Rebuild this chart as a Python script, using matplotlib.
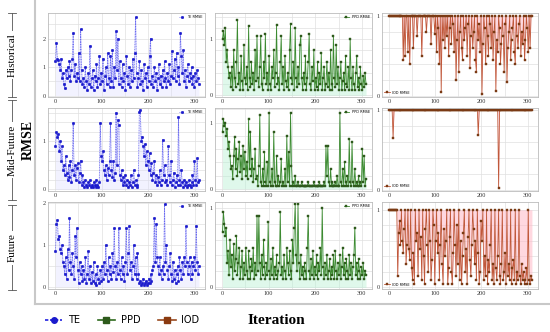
import numpy as np
import matplotlib
matplotlib.use("Agg")
import matplotlib.pyplot as plt
from matplotlib.lines import Line2D
from matplotlib.ticker import MultipleLocator

# iteration index (every 2nd iteration)
iters = np.arange(1, 311, 2)

rows = ["Historical", "Mid-Future", "Future"]
cols = ["TE", "PPD", "IOD"]

te_hist = [1.2, 1.85, 1.3, 1.25, 1.1, 0.9, 1.3, 0.6, 0.8, 0.4,
           0.25, 0.9, 0.6, 1.0, 0.7, 1.2, 0.5, 0.9, 1.3, 2.2,
           0.7, 1.1, 0.5, 0.8, 0.6, 1.5, 0.5, 2.35, 0.9, 0.4,
           0.6, 0.3, 1.0, 0.5, 0.2, 0.8, 0.4, 1.75, 0.3, 0.6,
           0.9, 0.2, 0.7, 0.5, 1.1, 0.3, 0.6, 1.4, 0.4, 0.8,
           0.5, 1.3, 0.2, 0.7, 1.0, 0.4, 1.5, 0.6, 0.3, 1.4,
           0.5, 1.6, 0.3, 1.0, 0.6, 2.25, 0.9, 2.0, 0.4, 1.2,
           0.6, 0.3, 1.1, 0.5, 0.8, 0.2, 1.4, 0.7, 0.4, 1.0,
           0.3, 0.9, 0.5, 1.3, 0.6, 1.5, 2.75, 0.8, 0.3, 0.6,
           1.2, 0.4, 0.9, 0.5, 0.2, 1.1, 0.6, 0.8, 0.3, 1.0,
           0.5, 1.4, 2.0, 0.4, 0.7, 0.3, 1.0, 0.5, 0.8, 0.2,
           0.6, 1.1, 0.4, 0.7, 0.3, 0.9, 0.5, 1.2, 0.6, 0.3,
           0.8, 0.5, 1.1, 0.4, 0.7, 1.55, 0.6, 0.9, 1.3, 0.5,
           1.5, 0.7, 1.0, 0.4, 2.2, 1.4, 0.8, 1.6, 0.5, 0.9,
           0.3, 0.7, 1.1, 0.5, 0.8, 0.6, 1.0, 0.4, 0.7, 0.3,
           0.8, 0.5, 0.9, 0.6, 0.4]

ppd_hist = [1.0, 1.15, 0.9, 1.2, 0.6, 0.8, 0.5, 0.3, 0.4, 0.15,
            0.5, 0.1, 0.8, 0.3, 0.15, 0.6, 1.35, 0.2, 0.4, 0.1,
            0.7, 0.25, 0.1, 0.9, 0.3, 0.2, 0.5, 0.1, 1.23, 0.3,
            0.15, 0.6, 0.2, 0.4, 0.1, 0.8, 0.25, 1.05, 0.3, 0.15,
            0.5, 1.05, 0.2, 0.1, 0.6, 0.3, 1.1, 0.2, 0.4, 0.1,
            0.7, 0.2, 0.1, 0.5, 0.3, 0.8, 0.15, 0.4, 1.25, 0.2,
            0.3, 0.1, 0.6, 1.05, 0.2, 0.5, 0.1, 0.7, 0.25, 0.15,
            0.4, 0.1, 0.8, 1.28, 0.3, 0.2, 0.6, 0.1, 1.2, 0.3,
            0.15, 0.5, 0.2, 0.9, 1.05, 0.3, 0.1, 0.4, 0.2, 0.7,
            0.1, 0.3, 0.6, 1.1, 0.2, 0.1, 0.5, 0.25, 0.8, 0.1,
            0.3, 0.15, 0.6, 0.1, 0.4, 0.2, 0.75, 0.1, 0.3, 0.5,
            0.1, 0.2, 0.6, 0.15, 0.4, 0.1, 0.8, 0.2, 0.1, 1.05,
            0.3, 0.15, 0.9, 0.2, 0.5, 0.1, 0.3, 0.6, 0.1, 0.25,
            0.4, 0.1, 0.7, 0.2, 0.15, 0.5, 0.1, 1.0, 0.3, 0.1,
            0.5, 0.2, 0.1, 0.4, 0.7, 0.15, 0.3, 0.1, 0.5, 0.2,
            0.1, 0.35, 0.15, 0.4, 0.2]

iod_hist = [1, 1, 1, 1, 1, 1, 1, 1, 1, 1,
            1, 1, 1, 1, 1, 0.45, 1, 0.5, 1, 1,
            0.55, 1, 0.4, 1, 1, 1, 0.6, 1, 1, 1,
            0.75, 1, 1, 1, 1, 0.5, 1, 1, 1, 1,
            0.8, 1, 1, 1, 1, 0.65, 1, 1, 1, 0.78,
            1, 0.55, 1, 0.85, 0.4, 1, 0.05, 1, 0.7, 1,
            0.6, 1, 0.75, 1, 0.5, 0.85, 1, 0.65, 1, 0.9,
            0.55, 1, 0.2, 0.7, 1, 0.3, 0.8, 1, 0.6, 0.45,
            1, 0.7, 0.85, 1, 0.5, 0.9, 1, 0.35, 0.75, 1,
            0.6, 0.8, 1, 0.45, 0.3, 1, 0.7, 0.9, 0.55, 1,
            0.03, 0.65, 1, 0.85, 0.4, 1, 0.75, 0.5, 1, 0.9,
            0.6, 1, 0.45, 0.8, 1, 0.06, 0.7, 0.55, 1, 0.85,
            0.4, 0.65, 1, 0.75, 0.3, 0.9, 1, 0.18, 0.6, 0.8,
            1, 0.45, 0.7, 0.85, 1, 0.55, 0.4, 1, 0.75, 0.6,
            0.9, 1, 0.5, 0.8, 0.65, 1, 0.45, 0.7, 1, 0.85,
            0.55, 1, 0.6, 1, 1]

te_mid = [0.9, 1.2, 1.1, 1.15, 0.8, 1.0, 0.6, 0.9, 0.4, 0.5,
          0.3, 0.7, 0.35, 0.2, 0.5, 0.25, 0.6, 0.15, 0.4, 1.39,
          0.3, 0.5, 0.2, 0.45, 0.55, 0.15, 0.35, 0.6, 0.1, 0.3,
          0.15, 0.05, 0.2, 0.1, 0.05, 0.15, 0.1, 0.2, 0.05, 0.1,
          0.05, 0.15, 0.1, 0.05, 0.2, 0.1, 0.05, 0.15, 1.39, 0.7,
          0.6, 0.8, 0.4, 0.3, 0.5, 0.2, 0.45, 0.3, 0.6, 1.39,
          0.4, 0.25, 0.6, 0.2, 0.35, 1.6, 0.5, 1.45, 1.35, 0.3,
          0.2, 0.4, 0.1, 0.25, 0.15, 0.3, 0.1, 0.2, 0.05, 0.15,
          0.1, 0.3, 0.05, 0.15, 0.4, 0.1, 0.2, 0.05, 0.1, 0.3,
          1.62, 1.65, 1.0, 1.1, 0.9, 0.7, 0.95, 0.5, 0.8, 0.6,
          0.4, 0.75, 0.3, 0.55, 0.2, 0.35, 0.6, 0.15, 0.3, 0.1,
          0.25, 0.15, 0.4, 0.1, 0.2, 1.04, 0.3, 0.5, 0.15, 0.2,
          0.1, 0.9, 0.3, 0.15, 0.6, 0.1, 0.2, 0.35, 0.05, 0.15,
          0.3, 0.1, 1.5, 0.2, 0.1, 0.4, 0.15, 0.05, 0.2, 0.1,
          0.15, 0.05, 0.1, 0.2, 0.1, 0.05, 0.15, 0.3, 0.1, 0.6,
          0.2, 0.1, 0.65, 0.15, 0.2]

ppd_mid = [0.85, 1.05, 0.95, 1.0, 0.8, 0.9, 0.6, 0.7, 0.5, 0.3,
           0.35, 0.15, 0.5, 0.78, 0.3, 0.6, 0.2, 0.45, 0.7, 0.25,
           0.5, 0.15, 0.65, 0.3, 0.55, 0.2, 0.4, 0.15, 1.05, 0.3,
           0.85, 0.2, 0.45, 0.1, 0.3, 0.6, 0.15, 0.2, 0.05, 0.35,
           1.12, 0.1, 0.05, 0.3, 0.05, 0.55, 0.1, 0.05, 0.4, 0.05,
           1.15, 0.1, 0.05, 0.3, 0.05, 0.85, 0.1, 0.05, 0.5, 0.05,
           0.2, 0.05, 0.1, 0.45, 0.05, 0.1, 0.05, 0.3, 0.05, 0.8,
           0.1, 0.55, 0.05, 1.15, 0.35, 0.05, 0.1, 0.05, 0.2, 0.05,
           0.05, 0.1, 0.05, 0.05, 0.05, 0.1, 0.05, 0.05, 0.05, 0.05,
           0.05, 0.05, 0.1, 0.05, 0.05, 0.05, 0.05, 0.05, 0.1, 0.05,
           0.05, 0.05, 0.05, 0.05, 0.1, 0.05, 0.05, 0.05, 0.05, 0.1,
           0.05, 0.64, 0.2, 0.65, 0.1, 0.05, 0.3, 0.05, 0.1, 0.05,
           0.05, 0.1, 0.05, 0.2, 0.05, 0.05, 1.15, 0.1, 0.05, 0.3,
           0.05, 0.4, 0.1, 0.05, 0.2, 0.05, 0.75, 0.1, 0.05, 0.7,
           0.1, 0.05, 0.3, 0.05, 0.1, 0.05, 0.2, 0.05, 0.1, 0.05,
           0.6, 0.1, 0.5, 0.05, 0.15]

iod_mid = [1, 1, 1, 1, 0.65, 1, 1, 1, 1, 1,
           1, 1, 1, 1, 1, 1, 1, 1, 1, 1,
           1, 1, 1, 1, 1, 1, 1, 1, 1, 1,
           1, 1, 1, 1, 1, 1, 1, 1, 1, 1,
           1, 1, 1, 1, 1, 1, 1, 1, 1, 1,
           1, 1, 1, 1, 1, 1, 1, 1, 1, 1,
           1, 1, 1, 1, 1, 1, 1, 1, 1, 1,
           1, 1, 1, 1, 1, 1, 1, 1, 1, 1,
           1, 1, 1, 1, 1, 1, 1, 1, 1, 1,
           1, 1, 1, 1, 1, 1, 0.69, 1, 1, 1,
           1, 1, 1, 1, 1, 1, 1, 1, 1, 1,
           1, 1, 1, 1, 1, 1, 1, 1, 0.03, 1,
           1, 1, 1, 1, 1, 1, 1, 1, 1, 1,
           1, 1, 1, 1, 1, 1, 1, 1, 1, 1,
           1, 1, 1, 1, 1, 1, 1, 1, 1, 1,
           1, 1, 1, 1, 1]

te_fut = [0.85, 1.5, 1.6, 1.15, 1.2, 0.9, 0.8, 1.0, 0.6, 0.5,
          0.3, 0.7, 0.2, 0.9, 0.4, 1.63, 0.6, 0.3, 0.8, 0.5,
          0.2, 1.2, 0.7, 1.4, 0.4, 0.1, 0.6, 0.3, 0.5, 0.15,
          0.4, 0.2, 0.7, 0.1, 0.3, 0.86, 0.2, 0.5, 0.1, 0.35,
          0.15, 0.6, 0.1, 0.3, 0.05, 0.5, 0.2, 0.1, 0.4, 0.15,
          0.5, 0.2, 0.6, 0.3, 1.0, 0.4, 0.15, 0.7, 0.3, 0.5,
          0.2, 0.8, 0.35, 1.4, 0.5, 0.2, 0.6, 0.3, 1.4, 0.4,
          0.2, 0.7, 0.3, 0.5, 0.15, 0.6, 1.4, 0.3, 0.8, 1.45,
          0.4, 0.6, 0.2, 0.5, 1.0, 0.3, 0.7, 0.2, 0.8, 0.3,
          0.1, 0.15, 0.05, 0.1, 0.2, 0.05, 0.1, 0.15, 0.05, 0.1,
          0.2, 0.1, 0.3, 0.15, 0.4, 0.5, 1.65, 0.6, 1.5, 0.7,
          0.5, 0.3, 0.7, 0.4, 0.2, 0.5, 0.3, 1.97, 0.6, 1.0,
          0.4, 0.2, 0.5, 0.8, 0.3, 0.15, 0.6, 0.2, 0.4, 0.1,
          0.3, 0.5, 0.15, 0.7, 0.4, 0.2, 0.6, 0.3, 0.7, 0.5,
          1.45, 0.6, 0.3, 0.5, 0.7, 0.2, 0.6, 0.3, 0.5, 0.7,
          0.4, 1.45, 0.6, 0.3, 0.5]

ppd_fut = [0.7, 0.94, 0.8, 0.65, 0.75, 0.3, 0.45, 0.15, 0.6, 0.25,
           0.4, 0.1, 0.55, 0.2, 0.35, 0.65, 0.15, 0.3, 0.5, 0.1,
           0.25, 0.45, 0.1, 0.3, 0.15, 0.5, 0.2, 0.1, 0.45, 0.25,
           0.1, 0.35, 0.2, 0.5, 0.1, 0.3, 0.15, 0.9, 0.2, 0.9,
           0.3, 0.1, 0.4, 0.15, 0.6, 0.25, 0.1, 0.3, 0.15, 0.82,
           0.2, 0.1, 0.35, 0.15, 0.5, 0.1, 0.25, 0.15, 0.4, 0.1,
           0.2, 0.3, 0.95, 0.15, 0.25, 0.1, 0.4, 0.2, 0.1, 0.5,
           0.3, 0.15, 0.45, 0.2, 0.1, 0.6, 0.3, 0.75, 1.04, 0.4,
           0.2, 1.04, 0.3, 0.1, 0.4, 0.15, 0.25, 0.1, 0.3, 0.2,
           0.1, 0.5, 0.9, 0.2, 0.1, 0.35, 0.15, 0.45, 0.1, 0.25,
           0.15, 0.4, 0.1, 0.3, 0.2, 0.5, 0.15, 1.0, 0.25, 0.1,
           0.3, 0.15, 0.4, 0.1, 0.2, 0.35, 0.1, 0.25, 0.15, 0.4,
           0.1, 0.45, 0.2, 0.1, 0.3, 0.15, 0.4, 0.1, 0.25, 0.5,
           0.15, 0.3, 0.1, 0.35, 0.2, 0.1, 0.4, 0.15, 0.3, 0.1,
           0.25, 0.4, 0.75, 0.15, 0.3, 0.1, 0.35, 0.2, 0.1, 0.25,
           0.15, 0.3, 0.1, 0.2, 0.15]

iod_fut = [1, 1, 1, 1, 1, 1, 1, 1, 1, 0.15,
           0.7, 0.85, 0.55, 1, 0.6, 0.45, 0.75, 1, 0.3, 0.55,
           1, 0.5, 0.35, 1, 0.25, 0.1, 0.45, 0.05, 1, 0.6,
           0.7, 0.15, 1, 0.5, 0.65, 0.1, 1, 0.4, 0.05, 0.75,
           1, 0.55, 0.2, 1, 0.6, 0.1, 0.35, 1, 0.8, 0.05,
           0.6, 1, 0.45, 0.7, 0.1, 0.55, 1, 0.3, 0.05, 0.75,
           0.4, 0.6, 1, 0.05, 0.25, 0.65, 1, 0.2, 0.05, 0.45,
           1, 0.55, 0.15, 0.8, 0.3, 1, 0.1, 0.6, 0.05, 0.4,
           0.7, 1, 0.2, 0.5, 0.05, 0.65, 1, 0.35, 0.15, 0.55,
           1, 0.75, 0.3, 0.6, 0.1, 1, 0.45, 0.05, 0.2, 0.85,
           0.6, 1, 0.1, 0.4, 0.15, 1, 0.05, 0.35, 0.2, 0.55,
           1, 0.1, 0.3, 0.05, 1, 0.25, 0.1, 0.4, 1, 0.15,
           0.05, 0.3, 1, 0.1, 0.2, 0.45, 0.05, 1, 0.15, 0.3,
           0.1, 1, 0.05, 0.25, 0.35, 0.1, 1, 0.05, 0.2, 0.1,
           1, 0.15, 0.05, 0.3, 0.1, 0.2, 0.05, 0.1, 0.25, 0.05,
           1, 0.1, 0.05, 0.15, 0.1]

data = [[te_hist, ppd_hist, iod_hist],
        [te_mid, ppd_mid, iod_mid],
        [te_fut, ppd_fut, iod_fut]]

ylims = [[(-0.05, 2.9), (-0.03, 1.47), (-0.01, 1.04)],
         [(-0.03, 1.7), (-0.03, 1.22), (-0.01, 1.03)],
         [(-0.05, 2.02), (-0.02, 1.07), (-0.02, 1.1)]]

styles = {
    "TE": dict(color="#6a6af0", ls=(0, (1.2, 0.8)), marker="o", mfc="#1a1acc", mec="#1a1acc",
               fill="#dcdcff", falpha=0.35),
    "PPD": dict(color="#3c8a30", ls="-", marker="s", mfc="#2e5a1c", mec="#2e5a1c",
                fill="#b8f0d4", falpha=0.45),
    "IOD": dict(color="#c0583a", ls="-", marker="s", mfc="#7a3a14", mec="#7a3a14",
                fill="#ffb8c8", falpha=0.55),
}

# panel geometry in figure fraction
col_x = [0.0873, 0.391, 0.6945]
col_w = [0.2855, 0.2855, 0.2836]
row_y = [0.708, 0.425, 0.1295]
row_h = [0.253, 0.25, 0.262]

fig = plt.figure(figsize=(5.5, 3.32), dpi=100)

for r in range(3):
    for c in range(3):
        name = cols[c]
        st = styles[name]
        y = np.array(data[r][c], dtype=float)
        ax = fig.add_axes([col_x[c], row_y[r], col_w[c], row_h[r]])
        if name == "IOD":
            ax.fill_between(iters, y, 1, color=st["fill"], alpha=st["falpha"], lw=0)
        else:
            ax.fill_between(iters, 0, y, color=st["fill"], alpha=st["falpha"], lw=0)
        ax.plot(iters, y, color=st["color"], ls=st["ls"], lw=0.6,
                marker=st["marker"], ms=1.9, mfc=st["mfc"], mec=st["mec"], mew=0.3,
                label=name + " RMSE")
        ax.set_xlim(-15, 322)
        ax.set_ylim(*ylims[r][c])
        ax.set_xticks([0, 100, 200, 300])
        top = int(np.floor(ylims[r][c][1]))
        ax.set_yticks(list(range(0, top + 1)))
        ax.xaxis.set_minor_locator(MultipleLocator(50))
        ax.yaxis.set_minor_locator(MultipleLocator(0.2 if top < 2 else 0.5))
        ax.grid(True, which="both", color="#e0e0e0", lw=0.5)
        ax.set_axisbelow(True)
        ax.tick_params(which="both", length=0, labelsize=4.5, pad=1.5, labelcolor="#333333")
        for lab in ax.get_xticklabels() + ax.get_yticklabels():
            lab.set_fontfamily("Liberation Serif")
        for sp in ax.spines.values():
            sp.set_color("#bbbbbb")
            sp.set_linewidth(0.6)
        loc = "lower left" if name == "IOD" else "upper right"
        ax.legend(loc=loc, fontsize=2.5, frameon=False, handlelength=1.5,
                  borderaxespad=0.3)

# left frame lines
fig.add_artist(Line2D([35 / 550, 35 / 550], [1, 1 - 304 / 332], color="#c8c8c8", lw=1.5))
fig.add_artist(Line2D([35 / 550, 1], [1 - 304 / 332, 1 - 304 / 332], color="#c8c8c8", lw=1.5))

# row labels with bracket lines
brackets = [(13, 97, 55), (100, 200, 150), (205, 290, 248)]
for name, (t, b, mid) in zip(rows, brackets):
    xf = 12 / 550
    yt, yb = 1 - t / 332, 1 - b / 332
    fig.add_artist(Line2D([xf, xf], [yb, yt], color="#555555", lw=0.6))
    for yy in (yt, yb):
        fig.add_artist(Line2D([xf - 4 / 550, xf + 4 / 550], [yy, yy], color="#555555", lw=0.6))
    fig.text(xf, 1 - mid / 332, name, rotation=90, ha="center", va="center",
             fontsize=8, family="Liberation Serif",
             bbox=dict(facecolor="white", edgecolor="none", pad=1.5))

fig.text(28 / 550, 1 - 140 / 332, "RMSE", rotation=90, ha="center", va="center",
         fontsize=10, fontweight="bold", family="Liberation Serif")
fig.text(276 / 550, 1 - 320 / 332, "Iteration", ha="center", va="center",
         fontsize=11, fontweight="bold", family="Liberation Serif")

handles = [Line2D([], [], color="#2020e0", ls=(0, (2, 1)), lw=1.2, marker="o", ms=4,
                  mfc="#1a1acc", mec="#1a1acc"),
           Line2D([], [], color="#2e6a1c", ls="-", lw=1.2, marker="s", ms=4,
                  mfc="#2e5a1c", mec="#2e5a1c"),
           Line2D([], [], color="#9a4a20", ls="-", lw=1.2, marker="s", ms=4,
                  mfc="#8a3a10", mec="#8a3a10")]
fig.legend(handles, cols, loc="center left", bbox_to_anchor=(36 / 550, 1 - 320 / 332),
           ncol=3, frameon=False, fontsize=7, handlelength=1.8, columnspacing=1.8,
           handletextpad=0.6)

fig.savefig("out.png", dpi=100)
